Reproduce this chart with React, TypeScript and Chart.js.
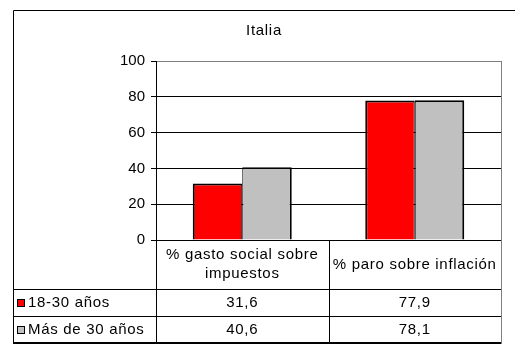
import React, { useEffect, useRef } from "react";
import { Chart, registerables } from "chart.js";

Chart.register(...registerables);

const chartTitle = "Italia";
const categories: (string | string[])[] = [["% gasto social sobre", "impuestos"], "% paro sobre inflación"];
const seriesNames = ["18-30 años", "Más de 30 años"];
const youngValues = [31.6, 77.9];
const olderValues = [40.6, 78.1];
const seriesColors = ["#FF0000", "#C0C0C0"];
const yMin = 0;
const yMax = 100;
const yStep = 20;

const FONT = "'Liberation Sans', Arial, sans-serif";

const fmt = (v: number) => v.toFixed(1).replace(".", ",");

const tablePlugin = {
  id: "dataTable",
  afterDraw(chart: any) {
    const { ctx, chartArea, scales } = chart;
    const xs = scales.x;
    const outerLeft = 13.5;
    const outerTop = 10.5;
    const axisX = Math.round(chartArea.left) + 0.5;
    const rightX = Math.round(chartArea.right) + 0.5;
    const headerTop = chartArea.bottom;
    const row1Top = 289.5;
    const row2Top = 316.5;
    const tableBottom = 343;
    const midX = Math.round((xs.getPixelForValue(0) + xs.getPixelForValue(1)) / 2) + 0.5;

    ctx.save();
    // outer chart border
    ctx.strokeStyle = "#000";
    ctx.lineWidth = 1;
    ctx.beginPath();
    ctx.moveTo(outerLeft, 344);
    ctx.lineTo(outerLeft, outerTop);
    ctx.lineTo(515, outerTop);
    ctx.stroke();

    // table lines
    ctx.beginPath();
    ctx.moveTo(outerLeft, row1Top);
    ctx.lineTo(rightX, row1Top);
    ctx.moveTo(outerLeft, row2Top);
    ctx.lineTo(rightX, row2Top);
    ctx.moveTo(axisX, headerTop);
    ctx.lineTo(axisX, tableBottom);
    ctx.moveTo(midX, headerTop);
    ctx.lineTo(midX, tableBottom);
    ctx.stroke();
    ctx.lineWidth = 2;
    ctx.beginPath();
    ctx.moveTo(outerLeft - 0.5, tableBottom);
    ctx.lineTo(rightX, tableBottom);
    ctx.stroke();

    // right gray frame
    ctx.strokeStyle = "#808080";
    ctx.lineWidth = 1;
    ctx.beginPath();
    ctx.moveTo(rightX, chartArea.top);
    ctx.lineTo(rightX, tableBottom + 1);
    ctx.stroke();

    // texts
    ctx.fillStyle = "#000";
    ctx.font = `15px ${FONT}`;
    (ctx as any).letterSpacing = "0.7px";
    ctx.textBaseline = "middle";
    ctx.textAlign = "center";

    // title
    ctx.fillText(chartTitle, 264, 31);

    const colCenters = categories.map((_, i) => xs.getPixelForValue(i));
    const headerMid = (headerTop + row1Top) / 2;
    categories.forEach((cat, i) => {
      const lines = Array.isArray(cat) ? cat : [cat];
      const lh = 19;
      lines.forEach((ln, j) => {
        const y = headerMid + (j - (lines.length - 1) / 2) * lh;
        ctx.fillText(ln, colCenters[i], y);
      });
    });

    const series = [youngValues, olderValues];
    const rowTops = [row1Top, row2Top];
    const rowBottoms = [row2Top, tableBottom];
    series.forEach((vals, r) => {
      const cy = (rowTops[r] + rowBottoms[r]) / 2;
      vals.forEach((v, i) => {
        ctx.textAlign = "center";
        ctx.fillText(fmt(v), colCenters[i], cy);
      });
      // legend key
      ctx.fillStyle = seriesColors[r];
      ctx.fillRect(17, Math.round(cy) - 4, 8, 8);
      ctx.strokeStyle = "#000";
      ctx.lineWidth = 1;
      ctx.strokeRect(17.5, Math.round(cy) - 3.5, 7, 7);
      ctx.fillStyle = "#000";
      ctx.textAlign = "left";
      ctx.fillText(seriesNames[r], 28, cy);
    });
    ctx.restore();
  },
};

export default function App() {
  const ref = useRef<HTMLCanvasElement>(null);
  useEffect(() => {
    Chart.defaults.font.family = FONT;
    Chart.defaults.color = "#000";
    const chart = new Chart(ref.current as HTMLCanvasElement, {
      type: "bar",
      data: {
        labels: categories as any,
        datasets: [
          {
            label: seriesNames[0],
            data: youngValues,
            backgroundColor: seriesColors[0],
            borderColor: "#000",
            borderWidth: { top: 2, left: 2, right: 1, bottom: 0 } as any,
            borderSkipped: "start",
            barPercentage: 1,
            categoryPercentage: 0.574,
          },
          {
            label: seriesNames[1],
            data: olderValues,
            backgroundColor: seriesColors[1],
            borderColor: "#000",
            borderWidth: { top: 2, left: 1, right: 2, bottom: 0 } as any,
            borderSkipped: "start",
            barPercentage: 1,
            categoryPercentage: 0.574,
          },
        ],
      },
      options: {
        animation: false,
        responsive: false,
        devicePixelRatio: 1,
        layout: { padding: { top: 61, right: 14, bottom: 104, left: 0 } },
        plugins: {
          legend: { display: false },
          title: { display: false },
          tooltip: { enabled: false },
        },
        scales: {
          x: { display: false },
          y: {
            min: yMin,
            max: yMax,
            ticks: { stepSize: yStep, color: "#000", font: { size: 15, family: FONT }, padding: 6 },
            grid: {
              color: (c: any) => (c.tick && c.tick.value === yMax ? "#808080" : "#000"),
              tickColor: "#000",
              tickLength: 5,
              lineWidth: 1,
            },
            border: { display: true, color: "#000", width: 1 },
            afterFit: (scale: any) => {
              scale.width = 156;
            },
          },
        },
      },
      plugins: [tablePlugin],
    });
    return () => chart.destroy();
  }, []);
  return (
    <div style={{ position: "absolute", left: 0, top: 0, width: 515, height: 344, background: "#fff" }}>
      <canvas ref={ref} width={515} height={344} style={{ display: "block", width: 515, height: 344 }} />
    </div>
  );
}
